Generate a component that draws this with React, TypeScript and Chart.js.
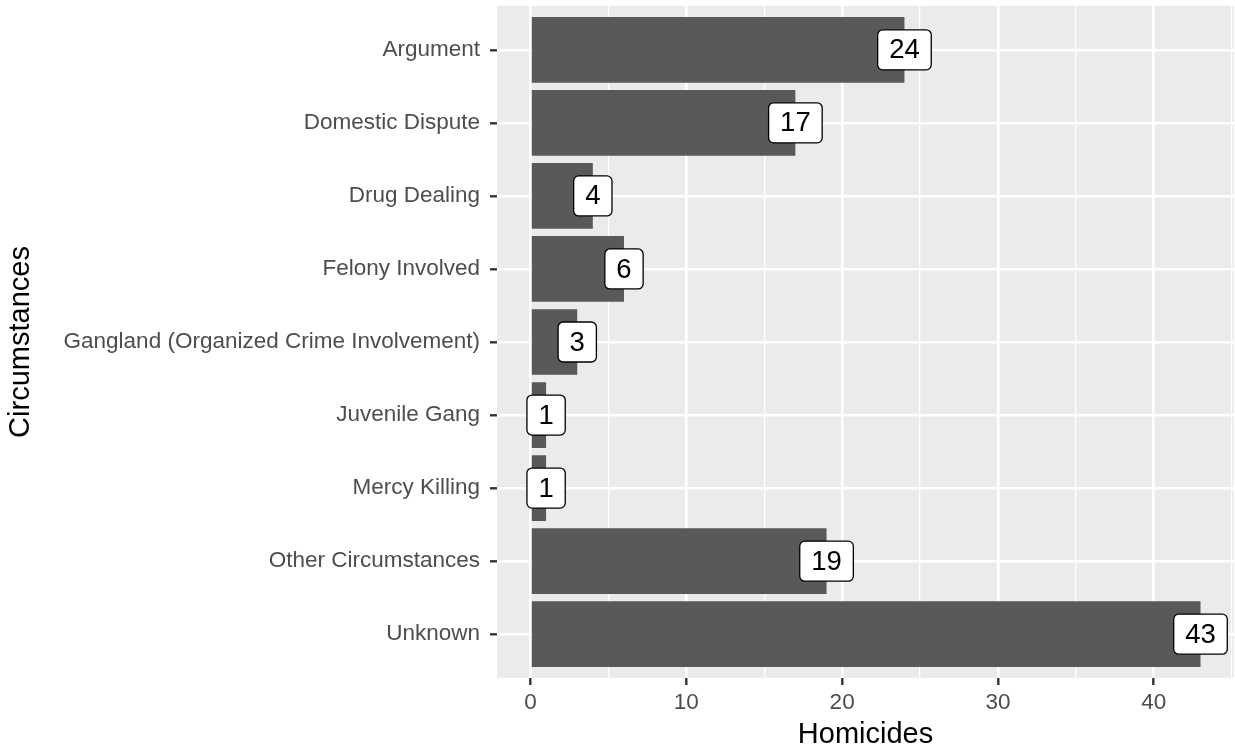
import React, { useEffect, useRef } from "react";
import { Chart, registerables } from "chart.js";

Chart.register(...registerables);

const categories = [
  "Argument",
  "Domestic Dispute",
  "Drug Dealing",
  "Felony Involved",
  "Gangland (Organized Crime Involvement)",
  "Juvenile Gang",
  "Mercy Killing",
  "Other Circumstances",
  "Unknown",
];
const homicides = [24, 17, 4, 6, 3, 1, 1, 19, 43];
const xTickValues = [0, 5, 10, 15, 20, 25, 30, 35, 40, 45];

const FONT = "'Liberation Sans', Arial, Helvetica, sans-serif";

export default function App() {
  const ref = useRef<HTMLCanvasElement | null>(null);

  useEffect(() => {
    const canvas = ref.current!;
    const panelPlugin = {
      id: "panelBg",
      beforeDraw(chart: any) {
        const { ctx, chartArea } = chart;
        ctx.save();
        ctx.fillStyle = "#EBEBEB";
        ctx.fillRect(chartArea.left, chartArea.top, chartArea.right - chartArea.left, chartArea.bottom - chartArea.top);
        ctx.restore();
      },
    };
    const labelPlugin = {
      id: "valueLabels",
      afterDatasetsDraw(chart: any) {
        const { ctx } = chart;
        const meta = chart.getDatasetMeta(0);
        ctx.save();
        ctx.font = `27.5px ${FONT}`;
        meta.data.forEach((el: any, i: number) => {
          const txt = String(homicides[i]);
          const tw = ctx.measureText(txt).width;
          const w = tw + 23;
          const h = 40;
          const x = el.x - w / 2;
          const y = el.y - h / 2;
          ctx.beginPath();
          ctx.roundRect(x, y, w, h, 5);
          ctx.fillStyle = "#FFFFFF";
          ctx.fill();
          ctx.lineWidth = 1.3;
          ctx.strokeStyle = "#000000";
          ctx.stroke();
          ctx.fillStyle = "#000000";
          ctx.textAlign = "center";
          ctx.textBaseline = "middle";
          ctx.fillText(txt, el.x, el.y + 1);
        });
        ctx.restore();
      },
    };

    const chart = new Chart(canvas, {
      type: "bar",
      data: {
        datasets: [
          {
            data: categories.map((c, i) => ({ x: homicides[i], y: i + 1 })) as any,
            backgroundColor: "#595959",
            borderWidth: 0,
            barPercentage: 1,
            categoryPercentage: 0.9,
          },
        ],
      },
      options: {
        indexAxis: "y",
        animation: false,
        responsive: false,
        devicePixelRatio: 1,
        layout: { padding: { top: 6, right: 1, bottom: 0, left: 0 } },
        plugins: { legend: { display: false }, tooltip: { enabled: false } },
        scales: {
          x: {
            type: "linear",
            position: "bottom",
            min: -2.15,
            max: 45.15,
            offset: false,
            afterBuildTicks: (scale: any) => {
              scale.ticks = xTickValues.map((v) => ({ value: v }));
            },
            afterFit: (scale: any) => {
              scale.height = 75;
              scale.paddingLeft = 0;
              scale.paddingRight = 0;
            },
            border: { display: false },
            grid: {
              offset: false,
              color: "#FFFFFF",
              lineWidth: (ctx: any) => (ctx.tick && ctx.tick.value % 10 === 0 ? 2.6 : 1.3),
              drawTicks: true,
              tickLength: 7,
              tickWidth: 2.4,
              tickColor: (ctx: any) => (ctx.tick && ctx.tick.value % 10 === 0 ? "#333333" : "rgba(0,0,0,0)"),
            },
            ticks: {
              autoSkip: false,
              maxRotation: 0,
              padding: 4,
              color: "#4D4D4D",
              font: { family: FONT, size: 22.5 },
              callback: (v: any) => (Number(v) % 10 === 0 ? String(v) : ""),
            },
            title: {
              display: true,
              text: "Homicides",
              color: "#000000",
              font: { family: FONT, size: 29 },
              padding: { top: 0, bottom: 1 },
            },
          },
          y: {
            type: "linear",
            position: "left",
            reverse: true,
            min: 0.4,
            max: 9.6,
            offset: false,
            afterBuildTicks: (scale: any) => {
              scale.ticks = categories.map((c, i) => ({ value: i + 1 }));
            },
            afterFit: (scale: any) => {
              scale.width = 497;
              scale.paddingTop = 0;
              scale.paddingBottom = 0;
            },
            border: { display: false },
            grid: {
              offset: false,
              color: "#FFFFFF",
              lineWidth: 2.6,
              drawTicks: true,
              tickLength: 7,
              tickWidth: 2.4,
              tickColor: "#333333",
            },
            ticks: {
              autoSkip: false,
              padding: 10,
              color: "#4D4D4D",
              font: { family: FONT, size: 22.5 },
              callback: (v: any) => categories[Number(v) - 1] ?? "",
            },
            title: {
              display: true,
              text: "Circumstances",
              color: "#000000",
              font: { family: FONT, size: 29 },
              padding: { top: 4, bottom: 0 },
            },
          },
        },
      },
      plugins: [panelPlugin, labelPlugin],
    });
    return () => chart.destroy();
  }, []);

  return (
    <div style={{ position: "fixed", left: 0, top: 0, width: 1235, height: 753, background: "#FFFFFF" }}>
      <canvas ref={ref} width={1235} height={753} style={{ width: 1235, height: 753, display: "block" }} />
    </div>
  );
}
